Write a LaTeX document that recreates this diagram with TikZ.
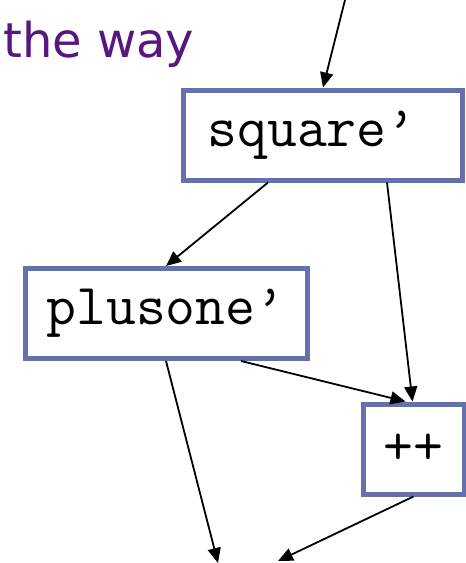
\documentclass[tikz,border=0pt]{standalone}
\usepackage{fontspec}
\setmainfont{DejaVu Sans}
\usetikzlibrary{arrows.meta}

\definecolor{boxblue}{RGB}{102,112,170}
\definecolor{titlepurple}{RGB}{88,22,128}

\tikzset{
    funbox/.style={draw=boxblue, line width=5pt, fill=white, inner sep=0pt,
        minimum height=90pt, font=\ttfamily\fontsize{58}{66}\selectfont},
    flow/.style={-{Triangle[length=15pt, width=13pt]}, line width=1.8pt, black}
}

\begin{document}
\begin{tikzpicture}[x=1pt, y=-1pt]
    \useasboundingbox (0,0) rectangle (466,563);

    \node[anchor=base west, inner sep=0pt, text=titlepurple,
        font=\fontsize{48}{57}\selectfont] (title) at (3,57) {the way};

    \node[funbox, minimum width=279pt] (square) at (323,135) {square’\kern22pt};
    \node[funbox, minimum width=282pt] (plusone) at (166,313.5) {plusone’};
    \node[funbox, minimum width=101pt] (inc) at (413.5,449) {++};

    \coordinate (in) at (345,0);
    \coordinate (outa) at (218,563);
    \coordinate (outb) at (278,561);

    \draw[flow] (in) -- (square.north);
    \draw[flow] ([xshift=-55pt]square.south) -- (plusone.north);
    \draw[flow] ([xshift=64pt]square.south) -- ([xshift=-1pt]inc.north);
    \draw[flow] ([xshift=75pt]plusone.south) -- ([xshift=-8pt]inc.north);
    \draw[flow] (plusone.south) -- (outa);
    \draw[flow] (inc.south) -- (outb);
\end{tikzpicture}
\end{document}
